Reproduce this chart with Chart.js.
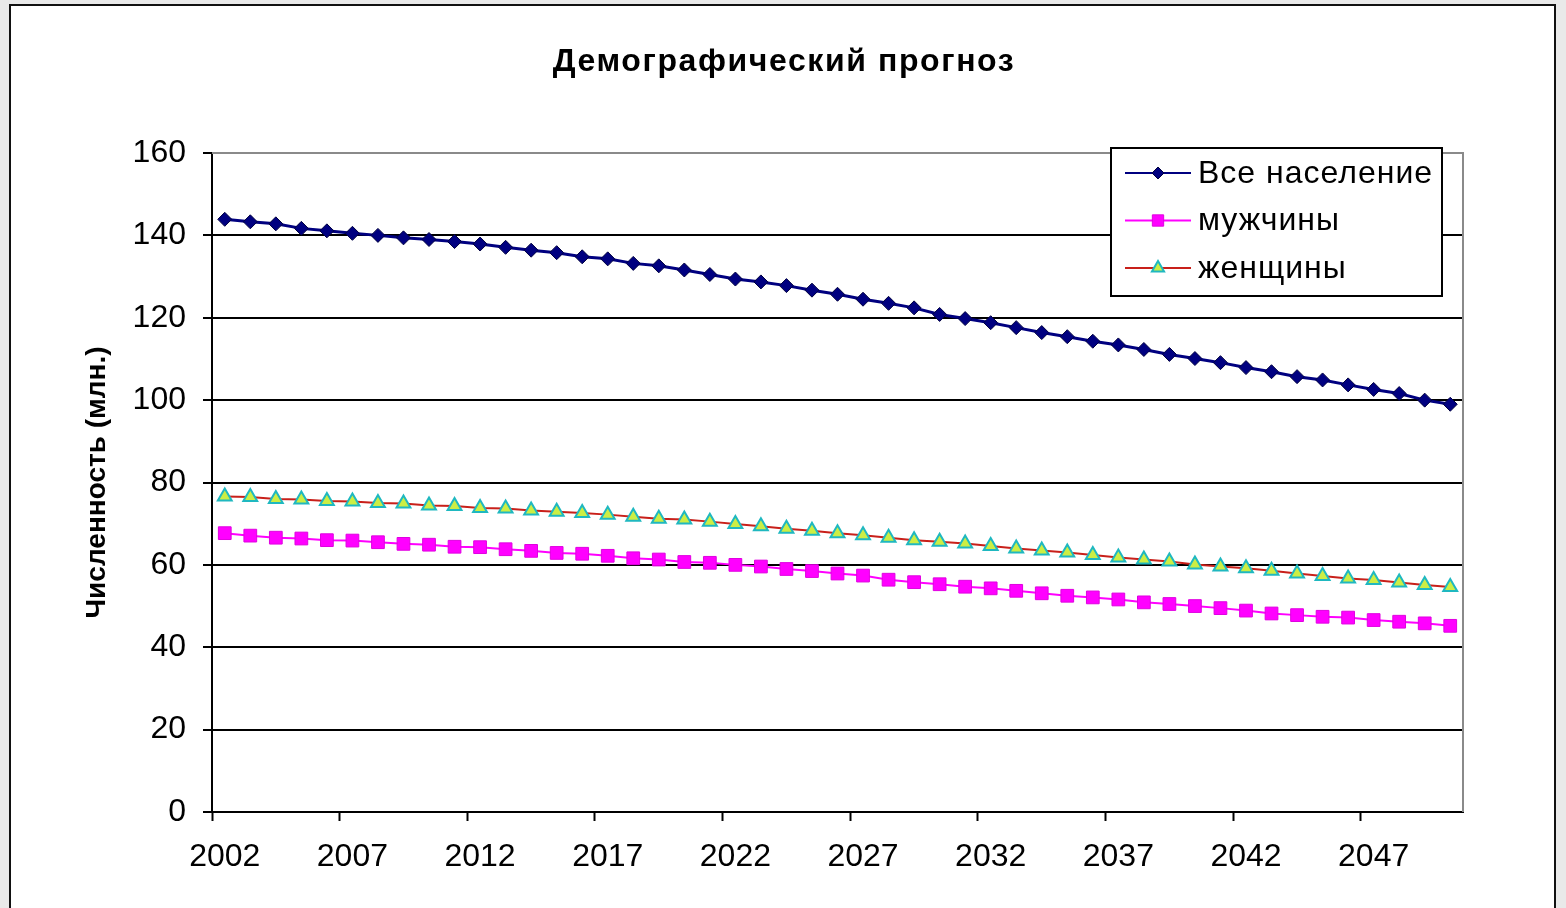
<!DOCTYPE html>
<html lang="ru">
<head>
<meta charset="utf-8">
<title>Демографический прогноз</title>
<script src="https://cdn.jsdelivr.net/npm/chart.js@4.4.1/dist/chart.umd.min.js"></script>
<style>
  html, body { margin:0; padding:0; background:#e9e9e9; width:1566px; height:908px; overflow:hidden; }
  #frame { position:absolute; left:9px; top:4px; width:1543px; height:930px; border:2px solid #111; background:#fff; }
  #chart { position:absolute; left:0; top:0; }
</style>
</head>
<body>
<div id="frame"></div>
<canvas id="chart" width="1566" height="908"></canvas>
<script>
// ── Данные ───────────────────────────────────────────────────────────────
const YEARS = [
  2002,2003,2004,2005,2006,2007,2008,2009,2010,2011,2012,2013,2014,2015,2016,2017,
  2018,2019,2020,2021,2022,2023,2024,2025,2026,2027,2028,2029,2030,2031,2032,2033,2034,
  2035,2036,2037,2038,2039,2040,2041,2042,2043,2044,2045,2046,2047,2048,2049,2050
];
const TOTAL = [
  143.9,143.3,142.8,141.7,141.1,140.5,140.0,139.4,139.0,138.5,137.9,137.1,136.4,135.8,134.8,134.3,
  133.2,132.6,131.6,130.5,129.4,128.7,127.8,126.7,125.7,124.5,123.5,122.4,120.8,119.8,118.8,117.6,116.4,
  115.4,114.3,113.4,112.3,111.1,110.1,109.1,107.9,106.9,105.7,104.9,103.7,102.6,101.6,100.0,99.0
];
const MEN = [
  67.7,67.1,66.6,66.4,66.0,65.9,65.5,65.1,64.9,64.4,64.3,63.8,63.4,62.9,62.7,62.2,
  61.6,61.3,60.7,60.5,60.0,59.6,59.0,58.5,57.9,57.4,56.4,55.8,55.3,54.7,54.3,53.7,53.1,
  52.5,52.1,51.6,50.9,50.5,50.0,49.5,48.9,48.2,47.8,47.4,47.2,46.6,46.2,45.8,45.2
];
const WOMEN = [
  76.6,76.5,76.0,75.9,75.5,75.4,75.0,74.9,74.4,74.3,73.8,73.7,73.2,72.9,72.6,72.2,
  71.7,71.2,71.0,70.5,69.9,69.4,68.8,68.3,67.7,67.2,66.6,66.0,65.6,65.2,64.6,64.0,63.5,
  63.0,62.4,61.8,61.3,60.8,60.1,59.6,59.2,58.6,57.9,57.3,56.7,56.3,55.7,55.1,54.6
];
const SERIES_NAMES = ['Все население', 'мужчины', 'женщины'];
const TITLE = 'Демографический прогноз';
const Y_TITLE = 'Численность (млн.)';
const LABEL_STEP = 5;   // подпись каждого 5-го года
const Y_MIN = 0, Y_MAX = 160, Y_STEP = 20;

const FONT = '"Liberation Sans", Arial, sans-serif';

// ── Плагины: заголовок, рамка области построения, легенда в стиле Excel ──
const excelTitle = {
  id: 'excelTitle',
  afterDraw(chart, args, o) {
    const { ctx } = chart;
    ctx.save();
    ctx.font = o.font;
    if ('letterSpacing' in ctx) ctx.letterSpacing = o.spacing + 'px';
    ctx.fillStyle = '#000';
    ctx.textAlign = 'center';
    ctx.textBaseline = 'middle';
    ctx.fillText(o.text, o.x, o.y);
    ctx.restore();
  }
};

const plotFrame = {
  id: 'plotFrame',
  afterDatasetsDraw(chart) {
    const { ctx, chartArea: a } = chart;
    ctx.save();
    ctx.strokeStyle = '#8a8a8a';
    ctx.lineWidth = 2;
    ctx.beginPath();
    ctx.moveTo(a.left, a.top); ctx.lineTo(a.right, a.top); ctx.lineTo(a.right, a.bottom);
    ctx.stroke();
    ctx.restore();
  }
};

const boxLegend = {
  id: 'boxLegend',
  afterDraw(chart, args, opts) {
    const { ctx } = chart;
    const { x, y, w, h, rowH, lineW, textX } = opts;
    ctx.save();
    ctx.fillStyle = '#fff';
    ctx.fillRect(x, y, w, h);
    ctx.strokeStyle = '#000';
    ctx.lineWidth = 2;
    ctx.strokeRect(x, y, w, h);
    chart.data.datasets.forEach((ds, i) => {
      const cy = y + 25 + i * rowH;
      const x0 = x + 14;
      ctx.strokeStyle = ds.borderColor;
      ctx.lineWidth = 2;
      ctx.beginPath(); ctx.moveTo(x0, cy); ctx.lineTo(x0 + lineW, cy); ctx.stroke();
      ctx.fillStyle = ds.pointBackgroundColor;
      ctx.strokeStyle = ds.pointBorderColor;
      ctx.lineWidth = ds.pointBorderWidth;
      Chart.helpers.drawPoint(ctx, {
        pointStyle: ds.pointStyle, radius: ds.pointRadius - 1, rotation: 0, borderWidth: ds.pointBorderWidth
      }, x0 + lineW / 2, cy);
      ctx.fillStyle = '#000';
      ctx.font = opts.font;
      if ('letterSpacing' in ctx) ctx.letterSpacing = opts.spacing + 'px';
      ctx.textBaseline = 'middle';
      ctx.textAlign = 'left';
      ctx.fillText(ds.label, textX, cy + 1);
      if ('letterSpacing' in ctx) ctx.letterSpacing = '0px';
    });
    ctx.restore();
  }
};

new Chart(document.getElementById('chart'), {
  type: 'line',
  data: {
    labels: YEARS,
    datasets: [
      {
        label: SERIES_NAMES[0], data: TOTAL,
        borderColor: '#000080', borderWidth: 3,
        pointStyle: 'rectRot', pointRadius: 7, pointBackgroundColor: '#000080', pointBorderColor: '#000040', pointBorderWidth: 1,
      },
      {
        label: SERIES_NAMES[1], data: MEN,
        borderColor: '#ff00ff', borderWidth: 2,
        pointStyle: 'rect', pointRadius: 9, pointBackgroundColor: '#ff00ff', pointBorderColor: '#e000e0', pointBorderWidth: 1,
      },
      {
        label: SERIES_NAMES[2], data: WOMEN,
        borderColor: '#c8201a', borderWidth: 2,
        pointStyle: 'triangle', pointRadius: 8, pointBackgroundColor: '#ccee44', pointBorderColor: '#1fb8c0', pointBorderWidth: 2,
      },
    ],
  },
  options: {
    responsive: false,
    animation: false,
    devicePixelRatio: 1,
    layout: { padding: { left: 0, right: 103, top: 153, bottom: 0 } },
    elements: { line: { tension: 0 } },
    plugins: {
      legend: { display: false },
      title: { display: false },
      tooltip: { enabled: false },
      excelTitle: { text: TITLE, x: 784, y: 62, font: `bold 32px ${FONT}`, spacing: 1.6 },
      boxLegend: { x: 1111, y: 148, w: 331, h: 148, rowH: 47.5, lineW: 66, textX: 1198, font: `32px ${FONT}`, spacing: 1 },
    },
    scales: {
      x: {
        type: 'category', offset: true,
        grid: {
          offset: true, drawOnChartArea: false, drawTicks: true, tickLength: 9, tickWidth: 2,
          color: 'transparent',
          tickColor: ctx => (ctx.index % LABEL_STEP === 0 ? '#000' : 'transparent'),
        },
        border: { display: true, color: '#000', width: 2 },
        ticks: {
          autoSkip: false, maxRotation: 0, padding: 17, color: '#000',
          font: { family: FONT, size: 32 },
          callback: (v, i) => (i % LABEL_STEP === 0 ? String(YEARS[i]) : ''),
        },
        afterFit: s => { s.height = 96; },
      },
      y: {
        min: Y_MIN, max: Y_MAX,
        grid: {
          color: ctx => (ctx.tick && ctx.tick.value === Y_MAX ? '#8a8a8a' : '#000'),
          lineWidth: 2, tickLength: 9, tickColor: '#000',
        },
        border: { display: true, color: '#000', width: 2 },
        ticks: { stepSize: Y_STEP, padding: 17, color: '#000', font: { family: FONT, size: 32 } },
        title: {
          display: true, text: Y_TITLE, color: '#000',
          font: { family: FONT, size: 28, weight: 'bold', lineHeight: 1.2 },
          padding: { top: 80, bottom: 0 },
        },
        afterFit: s => { s.width = 212; },
      },
    },
  },
  plugins: [excelTitle, plotFrame, boxLegend],
});
</script>
</body>
</html>
